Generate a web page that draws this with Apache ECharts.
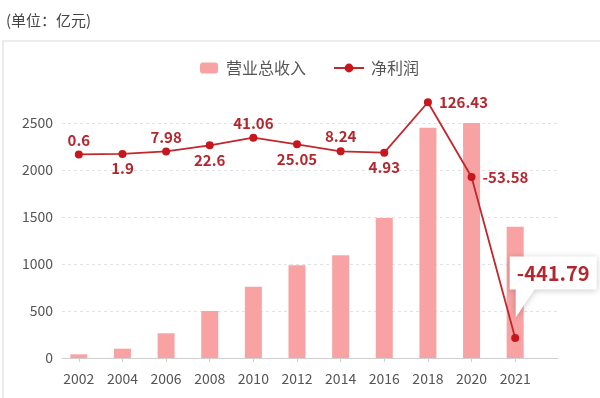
<!DOCTYPE html>
<html>

<head>
	<meta charset="UTF-8">
	<title>营业总收入与净利润</title>
	<script src="https://cdn.jsdelivr.net/npm/echarts@6/dist/echarts.min.js"></script>
	<style>
		html, body { margin: 0; padding: 0; background: #fff; }
		#container { width: 600px; height: 398px; }
	</style>
</head>

<body>
	<div id="container"></div>
	<script type="text/javascript">
		// 年份
		var years = ['2002', '2004', '2006', '2008', '2010', '2012', '2014', '2016', '2018', '2020', '2021'];
		// 营业总收入（亿元）
		var revenue = [39, 99, 263, 500, 758, 986, 1093, 1489, 2450, 2524, 1397];
		// 净利润（亿元）
		var profit = [0.6, 1.9, 7.98, 22.6, 41.06, 25.05, 8.24, 4.93, 126.43, -53.58, -441.79];
		// 左轴刻度
		var leftTicks = [0, 500, 1000, 1500, 2000, 2500];

		var labelColor = '#b3272e';
		var lineColor = '#c1272d';
		var fontName = '"Noto Sans CJK SC", "Noto Sans", sans-serif';

		// 净利润标签：前面上下交替，后面放右边，最后一个用气泡
		var profitData = [];
		for (var i = 0; i < profit.length; i++) {
			var pos = i < 8 ? (i % 2 == 0 ? 'top' : 'bottom') : 'right';
			profitData.push({
				value: profit[i],
				label: {
					show: i < profit.length - 1,
					position: pos,
					distance: pos == 'right' ? 7 : 3
				}
			});
		}
		var last = profit.length - 1;

		var myChart = echarts.init(document.getElementById('container'));
		var option = {
			animation: false,
			textStyle: { fontFamily: fontName },
			title: {
				text: '(单位：亿元)',
				left: 1,
				top: 8,
				textStyle: { fontSize: 15, fontWeight: 'normal', color: '#444', fontFamily: fontName }
			},
			graphic: [{
				type: 'rect',
				shape: { x: 3, y: 41, width: 640, height: 400 },
				style: { fill: 'none', stroke: '#e6e6e6', lineWidth: 1.5 },
				silent: true,
				z: -1
			}],
			legend: [{
				data: ['营业总收入'],
				left: 200,
				top: 60,
				padding: 0,
				itemWidth: 18,
				itemHeight: 11,
				textStyle: { fontSize: 16, color: '#555', padding: [0, 0, 0, 3] }
			}, {
				data: ['净利润'],
				left: 333,
				top: 60,
				padding: 0,
				itemWidth: 30,
				itemHeight: 11,
				textStyle: { fontSize: 16, color: '#555', padding: [0, 0, 0, 2] }
			}],
			grid: [
				// 网格线和坐标轴线
				{ left: 62, right: 42, top: 123, bottom: 40 },
				// 柱子和折线
				{ left: 57, right: 63, top: 123, bottom: 40 }
			],
			xAxis: [{
				gridIndex: 0,
				type: 'value',
				min: 0,
				max: 1,
				axisLine: { show: true, lineStyle: { color: '#cfcfcf', width: 1 } },
				axisTick: { show: false },
				axisLabel: { show: false },
				splitLine: { show: false }
			}, {
				gridIndex: 1,
				type: 'category',
				data: years,
				axisLine: { show: false },
				axisTick: { show: true, alignWithLabel: true, length: 4, lineStyle: { color: '#cfcfcf' } },
				axisLabel: { fontSize: 14, color: '#555', margin: 14, interval: 0 }
			}],
			yAxis: [{
				gridIndex: 0,
				type: 'value',
				min: leftTicks[0],
				max: leftTicks[leftTicks.length - 1],
				interval: leftTicks[1] - leftTicks[0],
				axisLine: { show: false },
				axisTick: { show: false },
				axisLabel: {
					fontSize: 14,
					color: '#555',
					margin: 9,
					formatter: function (v) { return String(v); }
				},
				splitLine: { show: true, lineStyle: { color: '#e2e2e2', type: [3, 3] } }
			}, {
				gridIndex: 1,
				type: 'value',
				min: leftTicks[0],
				max: leftTicks[leftTicks.length - 1],
				show: false
			}, {
				gridIndex: 1,
				type: 'value',
				min: -490,
				max: 76.4,
				show: false
			}],
			series: [{
				name: '营业总收入',
				type: 'bar',
				xAxisIndex: 1,
				yAxisIndex: 1,
				barWidth: 17,
				itemStyle: { color: '#f8a2a3' },
				data: revenue
			}, {
				name: '净利润',
				type: 'line',
				xAxisIndex: 1,
				yAxisIndex: 2,
				clip: false,
				symbol: 'circle',
				symbolSize: 8,
				lineStyle: { color: lineColor, width: 1.8 },
				itemStyle: { color: '#c8161d' },
				label: {
					show: true,
					color: labelColor,
					fontSize: 15,
					fontWeight: 'bold'
				},
				data: profitData,
				z: 3,
				markPoint: {
					symbol: 'path://M0,0 L87,0 L87,33 L25,33 L6,61 L6,33 L0,33 Z',
					symbolSize: [87, 61],
					symbolOffset: [38, -51],
					itemStyle: {
						color: '#fff',
						shadowBlur: 6,
						shadowColor: 'rgba(0,0,0,0.22)',
						shadowOffsetY: 1
					},
					label: {
						show: true,
						color: labelColor,
						fontSize: 20,
						fontWeight: 'bold',
						offset: [0, -14],
						formatter: '{c}'
					},
					data: [{ coord: [years[last], profit[last]], value: profit[last] }]
				}
			}]
		};
		myChart.setOption(option);
	</script>

</body>

</html>
